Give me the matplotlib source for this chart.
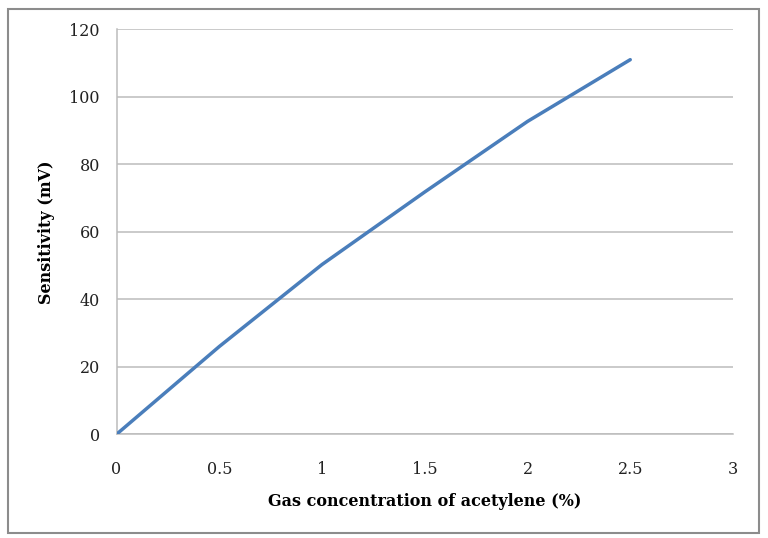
import matplotlib
matplotlib.use("agg")
import matplotlib.pyplot as plt
from matplotlib.patches import Rectangle

# concentration (%) vs sensor output (mV)
concentration = [0, 0.5, 1.0, 1.5, 2.0, 2.5]
sensitivity = [0, 26, 50.3, 71.8, 92.7, 111]

x_ticks = [0, 0.5, 1, 1.5, 2, 2.5, 3]
x_tick_labels = ['0', '0.5', '1', '1.5', '2', '2.5', '3']
y_ticks = [0, 20, 40, 60, 80, 100, 120]

W, H = 768, 538
fig = plt.figure(figsize=(W / 100, H / 100), dpi=100)
plt.rcParams['font.family'] = ['DejaVu Serif']

# axes box in pixels: left 116.5, right 733, top 29.3, bottom 434.3
ax = fig.add_axes([116.5 / W, 1 - 434.3 / H, (733 - 116.5) / W, (434.3 - 29.3) / H])

ax.plot(concentration, sensitivity, color='#4a7ebb', linewidth=2.5,
        solid_capstyle='round', zorder=3)

ax.set_xlim(0, 3)
ax.set_ylim(0, 120)
ax.set_xticks(x_ticks)
ax.set_xticklabels(x_tick_labels)
ax.set_yticks(y_ticks)
ax.tick_params(length=0, labelsize=11.5, colors='#222222')
ax.tick_params(axis='x', pad=19)
ax.tick_params(axis='y', pad=12)

ax.yaxis.grid(True, color='#bcbcbc', linewidth=1.1)
ax.set_axisbelow(True)
for side in ['top', 'right']:
    ax.spines[side].set_visible(False)
for side in ['left', 'bottom']:
    ax.spines[side].set_color('#bcbcbc')
    ax.spines[side].set_linewidth(1.1)

ax.set_xlabel('Gas concentration of acetylene (%)', fontsize=11.5,
              fontweight='bold', labelpad=11)
ax.set_ylabel('Sensitivity (mV)', fontsize=11.5, fontweight='bold', labelpad=10)

# outer chart frame like the Excel chart area
fig.patches.append(Rectangle((8 / W, 1 - 533 / H), (759 - 8) / W, (533 - 9) / H,
                             transform=fig.transFigure, fill=False,
                             edgecolor='#8c8c8c', linewidth=1.5))

plt.savefig('out.png', dpi=100)
plt.clf()
